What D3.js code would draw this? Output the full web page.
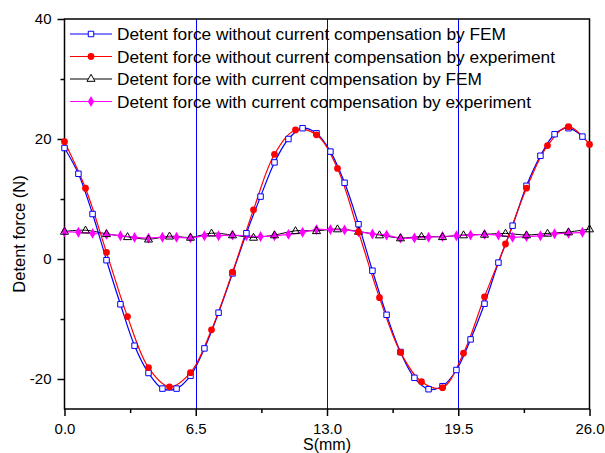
<!DOCTYPE html>
<html><head><meta charset="utf-8">
<script src="https://cdn.jsdelivr.net/npm/d3@7"></script>
<style>
body{margin:0;background:#fff;}
svg{display:block;font-family:Arial,"Liberation Sans",sans-serif;}
</style></head>
<body><svg id="c" width="605" height="453"></svg>
<script>
// ---- data ----
const femX = [0,0.69,1.39,2.08,2.77,3.47,4.16,4.85,5.55,6.24,6.93,7.63,8.32,9.01,9.71,10.4,11.09,11.79,12.48,13.17,13.87,14.56,15.25,15.95,16.64,17.33,18.03,18.72,19.41,20.11,20.8,21.49,22.19,22.88,23.57,24.27,24.96,25.65];
const expX = [0,1.04,2.08,3.12,4.16,5.2,6.24,7.28,8.32,9.36,10.4,11.44,12.48,13.52,14.56,15.6,16.64,17.68,18.72,19.76,20.8,21.84,22.88,23.92,24.96,26];
const femNoComp = [18.5,14.2,7.5,-0.2,-7.55,-14.45,-19,-21.6,-21.6,-19.45,-14.9,-8.95,-2.4,4.3,10.4,16.1,20,21.8,20.95,17.9,12.7,5.8,-1.95,-9.3,-15.5,-19.8,-21.7,-21.2,-18.5,-13.4,-7.45,-0.6,5.55,12.2,17.2,20.8,21.8,20.4];
const expNoComp = [19.55,11.8,1.1,-9.6,-18.1,-21.3,-18.95,-11.8,-2.2,8.2,17.45,21.5,20.7,15.1,4.5,-6.45,-15.55,-20.45,-21.45,-15.7,-6.3,2.5,11.8,18.9,22.05,19.1];
const femComp = [4.6,4.8,4.2,3.7,3.3,3.8,3.6,4.3,4.0,3.6,4.0,4.7,4.7,5.0,4.6,4.0,3.5,3.75,3.7,4.0,4.1,4.27,4.0,4.27,4.5,5.0];
const expComp = [4.55,4.45,4.27,4.1,3.87,3.6,3.47,3.63,3.63,3.52,3.87,3.87,3.98,3.87,3.75,3.87,4.1,4.45,4.9,4.9,4.85,4.55,4.17,3.98,3.47,3.52,3.63,3.75,3.87,3.98,4.1,3.98,3.63,3.75,3.87,4.2,4.3,4.45];
const xTicks = [0,6.5,13,19.5,26];
const xTickLabels = ["0.0","6.5","13.0","19.5","26.0"];
const xMinor = [3.25,9.75,16.25,22.75];
const yTicks = [-20,0,20,40];
const yTickLabels = ["-20","0","20","40"];
const yMinor = [-10,10,30];
const vLines = [6.5,13,19.5];
const seriesNames = [
  "Detent force without current compensation by FEM",
  "Detent force without current compensation by experiment",
  "Detent force with current compensation by FEM",
  "Detent force with current compensation by experiment"
];

const svg = d3.select("#c");
const L=64.5, R=589.5, T=19, B=409;
const x = d3.scaleLinear().domain([0,26]).range([L,R]);
const y = d3.scaleLinear().domain([-25,40]).range([B,T]);

// vertical reference lines
svg.selectAll(".vl").data(vLines).enter().append("line")
  .attr("x1",d=>Math.round(x(d))+0.5).attr("x2",d=>Math.round(x(d))+0.5)
  .attr("y1",T).attr("y2",B).attr("stroke","#0000ff").attr("stroke-width",1);

// frame
svg.append("rect").attr("x",L).attr("y",T).attr("width",R-L).attr("height",B-T)
  .attr("fill","none").attr("stroke","#000").attr("stroke-width",1.5);

// axes
function styleAxis(g){
  g.select(".domain").remove();
  g.selectAll("line").attr("stroke","#000").attr("stroke-width",1.5);
  g.selectAll("text").attr("font-size",15).attr("fill","#000").attr("font-family","Arial, 'Liberation Sans', sans-serif");
}
svg.append("g").attr("transform",`translate(0,${B})`)
  .call(d3.axisBottom(x).tickValues(xTicks).tickSize(7).tickPadding(7).tickFormat((d,i)=>xTickLabels[i]))
  .call(styleAxis);
svg.append("g").attr("transform",`translate(0,${B})`)
  .call(d3.axisBottom(x).tickValues(xMinor).tickSize(4).tickFormat(""))
  .call(styleAxis);
svg.append("g").attr("transform",`translate(${L},0)`)
  .call(d3.axisLeft(y).tickValues(yTicks).tickSize(7).tickPadding(6).tickFormat((d,i)=>yTickLabels[i]))
  .call(styleAxis);
svg.append("g").attr("transform",`translate(${L},0)`)
  .call(d3.axisLeft(y).tickValues(yMinor).tickSize(4).tickFormat(""))
  .call(styleAxis);

// axis titles
svg.append("text").attr("x",(L+R)/2).attr("y",449.5).attr("text-anchor","middle")
  .attr("font-size",16).text("S(mm)");
svg.append("text").attr("transform",`translate(25,234) rotate(-90)`)
  .attr("text-anchor","middle").attr("font-size",16.5).text("Detent force (N)");

// lines
const line = d3.line().x(d=>x(d[0])).y(d=>y(d[1])).curve(d3.curveCatmullRom);
const zip = (xs,ys)=>xs.map((v,i)=>[v,ys[i]]);
const dFemNo = zip(femX,femNoComp), dExpNo = zip(expX,expNoComp);
const dFemC = zip(expX,femComp), dExpC = zip(femX,expComp);

const sym = {
  square: d3.symbol().type(d3.symbolSquare).size(30),
  circle: d3.symbol().type(d3.symbolCircle).size(36),
  triangle: d3.symbol().type(d3.symbolTriangle).size(28),
  diamond: d3.symbol().type(d3.symbolDiamond).size(34)
};

svg.append("path").datum(dFemC).attr("d",line).attr("fill","none").attr("stroke","#000").attr("stroke-width",1);
svg.append("path").datum(dExpC).attr("d",line).attr("fill","none").attr("stroke","#ff00ff").attr("stroke-width",1.2);
svg.selectAll(".dm").data(dExpC).enter().append("path")
  .attr("transform",d=>`translate(${x(d[0])},${y(d[1])})`).attr("d",sym.diamond()).attr("fill","#ff00ff");
svg.selectAll(".tr").data(dFemC).enter().append("path")
  .attr("transform",d=>`translate(${x(d[0])},${y(d[1])+0.5})`).attr("d",sym.triangle()).attr("fill","none").attr("stroke","#000").attr("stroke-width",1);

svg.append("path").datum(dFemNo).attr("d",line).attr("fill","none").attr("stroke","#0000ff").attr("stroke-width",1.2);
svg.append("path").datum(dExpNo).attr("d",line).attr("fill","none").attr("stroke","#ff0000").attr("stroke-width",1.2);
svg.selectAll(".sq").data(dFemNo).enter().append("path")
  .attr("transform",d=>`translate(${x(d[0])},${y(d[1])})`).attr("d",sym.square()).attr("fill","#fff").attr("stroke","#0000ff").attr("stroke-width",1);
svg.selectAll(".ci").data(dExpNo).enter().append("path")
  .attr("transform",d=>`translate(${x(d[0])},${y(d[1])})`).attr("d",sym.circle()).attr("fill","#ff0000");

// legend
const legY = [34,56.5,79,101.5];
const legStyle = [
  {c:"#0000ff", s:"square", fill:"#fff", stroke:"#0000ff"},
  {c:"#ff0000", s:"circle", fill:"#ff0000", stroke:"none"},
  {c:"#000", s:"triangle", fill:"#fff", stroke:"#000"},
  {c:"#ff00ff", s:"diamond", fill:"#ff00ff", stroke:"none"}
];
const lg = svg.append("g");
seriesNames.forEach((n,i)=>{
  const st = legStyle[i];
  lg.append("line").attr("x1",70).attr("x2",112).attr("y1",legY[i]).attr("y2",legY[i]).attr("stroke",st.c).attr("stroke-width",1.2);
  lg.append("path").attr("transform",`translate(91,${legY[i]})`).attr("d",sym[st.s]())
    .attr("fill",st.fill).attr("stroke",st.stroke).attr("stroke-width",1);
  lg.append("text").attr("x",117).attr("y",legY[i]).attr("dy","0.36em").attr("font-size",17.3).text(n);
});
</script></body></html>
